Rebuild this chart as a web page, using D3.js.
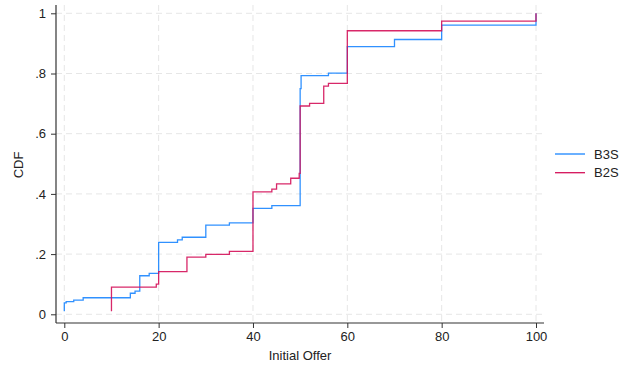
<!DOCTYPE html>
<html>
<head>
<meta charset="utf-8">
<script src="https://cdn.jsdelivr.net/npm/d3@7"></script>
<style>
  body { margin: 0; background: #fff; }
  text { font-family: Arial, "Liberation Sans", sans-serif; fill: #222; }
  .grid line { stroke: #e6e6e6; stroke-dasharray: 6 4; stroke-width: 1; }
</style>
</head>
<body>
<div id="chart"></div>
<script>
// --- données ---
const b3sOffer = [0, 0, 0.4, 2, 4, 14, 15, 16, 18, 20, 24, 25, 30, 35, 40, 44, 50, 50.2, 56, 60, 70, 80, 100];
const b3sCdf   = [0.01, 0.038, 0.042, 0.047, 0.055, 0.07, 0.077, 0.128, 0.136, 0.239, 0.247, 0.256, 0.296, 0.304, 0.352, 0.361, 0.75, 0.793, 0.801, 0.889, 0.913, 0.961, 1.0];

const b2sOffer = [10, 10, 19.5, 20, 26, 30, 35, 40, 44, 45, 48, 49.8, 50, 52, 55, 56, 60, 80, 100];
const b2sCdf   = [0.01, 0.09, 0.1, 0.142, 0.19, 0.199, 0.209, 0.407, 0.416, 0.433, 0.452, 0.468, 0.692, 0.701, 0.758, 0.767, 0.942, 0.974, 1.0];

const xTicks = [0, 20, 40, 60, 80, 100];
const yTicks = [0, 0.2, 0.4, 0.6, 0.8, 1];

const seriesNames = ["B3S", "B2S"];
const seriesColors = ["#1a85ff", "#d41159"];

// --- configuration ---
const width = 621;
const height = 369;
const plotLeft = 56, plotRight = 544, plotTop = 5, plotBottom = 323;
const fontSize = 13;

const svg = d3.select("#chart")
    .append("svg")
    .attr("width", width)
    .attr("height", height);

const x = d3.scaleLinear().domain([0, 100]).range([64.3, 536]);
const y = d3.scaleLinear().domain([0, 1]).range([314.3, 13.3]);

// grille
svg.append("g").attr("class", "grid")
    .selectAll("line")
    .data(yTicks)
    .join("line")
    .attr("x1", plotLeft).attr("x2", plotRight)
    .attr("y1", d => y(d)).attr("y2", d => y(d));

svg.append("g").attr("class", "grid")
    .selectAll("line")
    .data(xTicks)
    .join("line")
    .attr("x1", d => x(d)).attr("x2", d => x(d))
    .attr("y1", plotTop).attr("y2", plotBottom);

// courbes CDF (en escalier)
const series = [
    { name: seriesNames[0], color: seriesColors[0], pts: b3sOffer.map((o, i) => [o, b3sCdf[i]]) },
    { name: seriesNames[1], color: seriesColors[1], pts: b2sOffer.map((o, i) => [o, b2sCdf[i]]) }
];

const line = d3.line()
    .x(d => x(d[0]))
    .y(d => y(d[1]))
    .curve(d3.curveStepAfter);

svg.append("g")
    .selectAll("path")
    .data(series)
    .join("path")
    .attr("d", d => line(d.pts))
    .attr("fill", "none")
    .attr("stroke", d => d.color)
    .attr("stroke-width", 1.3)
    .attr("stroke-opacity", 0.9);

// axes
const fmtY = d => d === 0 ? "0" : d === 1 ? "1" : String(d).replace("0.", ".");

const yAxis = svg.append("g")
    .attr("transform", `translate(${plotLeft},0)`)
    .call(d3.axisLeft(y).tickValues(yTicks).tickFormat(fmtY).tickSize(5).tickPadding(5));

const xAxis = svg.append("g")
    .attr("transform", `translate(0,${plotBottom})`)
    .call(d3.axisBottom(x).tickValues(xTicks).tickFormat(d3.format("d")).tickSize(5).tickPadding(4));

[yAxis, xAxis].forEach(a => {
    a.select(".domain").remove();
    a.selectAll(".tick line").attr("stroke", "#333");
    a.selectAll(".tick text").attr("font-size", fontSize).attr("fill", "#222")
        .style("font-family", "Arial, 'Liberation Sans', sans-serif");
});

svg.append("line")
    .attr("x1", plotLeft).attr("x2", plotLeft)
    .attr("y1", plotTop).attr("y2", plotBottom)
    .attr("stroke", "#333").attr("stroke-width", 1.2);
svg.append("line")
    .attr("x1", plotLeft).attr("x2", plotRight)
    .attr("y1", plotBottom).attr("y2", plotBottom)
    .attr("stroke", "#333").attr("stroke-width", 1.2);

// titres des axes
svg.append("text")
    .attr("x", 300)
    .attr("y", 360)
    .attr("text-anchor", "middle")
    .attr("font-size", fontSize)
    .text("Initial Offer");

svg.append("text")
    .attr("transform", "translate(23,165) rotate(-90)")
    .attr("text-anchor", "middle")
    .attr("font-size", fontSize)
    .text("CDF");

// légende
const legend = svg.append("g")
    .selectAll("g")
    .data(series)
    .join("g")
    .attr("transform", (d, i) => `translate(555,${154 + i * 18.7})`);

legend.append("line")
    .attr("x1", 0).attr("x2", 30)
    .attr("stroke", d => d.color)
    .attr("stroke-width", 1.3);

legend.append("text")
    .attr("x", 39)
    .attr("y", 4.5)
    .attr("font-size", fontSize)
    .text(d => d.name);
</script>
</body>
</html>
